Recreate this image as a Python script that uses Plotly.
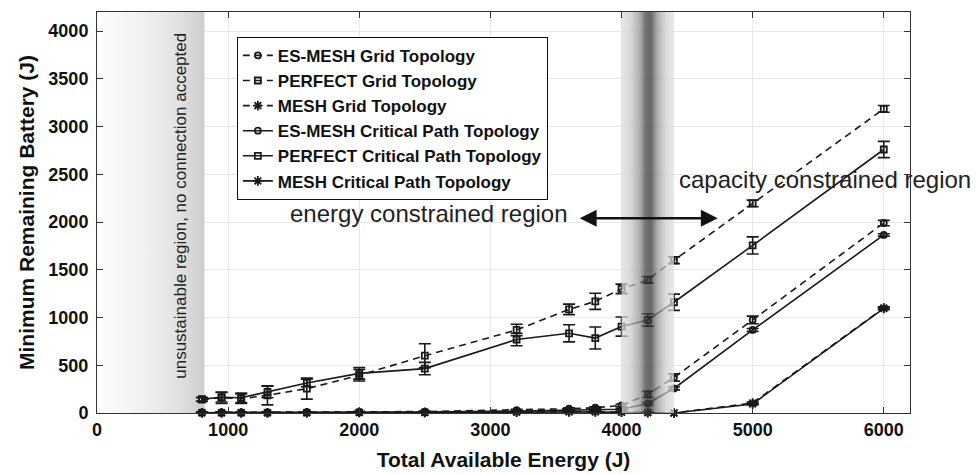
import numpy as np
import plotly.graph_objects as go

# Total available energy (J)
energy = [800, 950, 1100, 1300, 1600, 2000, 2500, 3200, 3600, 3800, 4000, 4200, 4400, 5000, 6000]

# Minimum remaining battery (J) and error bar half-heights for each protocol / topology
es_mesh_grid = [5, 5, 5, 5, 8, 12, 15, 30, 45, 55, 80, 195, 372, 975, 1990]
es_mesh_grid_err = [5, 5, 5, 5, 5, 5, 5, 8, 10, 10, 15, 32, 38, 40, 28]

perfect_grid = [140, 160, 150, 185, 255, 395, 600, 870, 1085, 1170, 1300, 1395, 1600, 2195, 3185]
perfect_grid_err = [20, 60, 50, 100, 110, 60, 125, 60, 55, 85, 50, 35, 35, 35, 35]

mesh_grid = [3, 3, 3, 3, 3, 5, 5, 10, 15, 15, 10, 5, 0, 105, 1100]
mesh_grid_err = [3, 3, 3, 3, 3, 3, 3, 5, 5, 5, 5, 5, 3, 10, 12]

es_mesh_cp = [3, 3, 3, 3, 5, 8, 10, 20, 30, 35, 40, 100, 257, 870, 1865]
es_mesh_cp_err = [3, 3, 3, 3, 3, 3, 3, 5, 5, 5, 8, 12, 15, 15, 12]

perfect_cp = [145, 165, 160, 220, 315, 415, 465, 770, 835, 785, 905, 975, 1160, 1755, 2760]
perfect_cp_err = [20, 50, 50, 60, 40, 60, 65, 65, 90, 115, 100, 65, 85, 90, 85]

mesh_cp = [3, 3, 3, 3, 3, 5, 5, 8, 12, 12, 8, 3, 0, 95, 1095]
mesh_cp_err = [3, 3, 3, 3, 3, 3, 3, 5, 5, 5, 5, 5, 3, 10, 12]

series = [
    ("ES-MESH Grid Topology", es_mesh_grid, es_mesh_grid_err, "circle-open", 6, "dash"),
    ("PERFECT Grid Topology", perfect_grid, perfect_grid_err, "square-open", 6, "dash"),
    ("MESH Grid Topology", mesh_grid, mesh_grid_err, "asterisk-open", 8, "dash"),
    ("ES-MESH Critical Path Topology", es_mesh_cp, es_mesh_cp_err, "circle-open", 6, "solid"),
    ("PERFECT Critical Path Topology", perfect_cp, perfect_cp_err, "square-open", 6, "solid"),
    ("MESH Critical Path Topology", mesh_cp, mesh_cp_err, "asterisk-open", 8, "solid"),
]

X_MAX, Y_MAX = 6200, 4200
UNSUSTAINABLE = (0, 820)
TRANSITION = (4000, 4400)

FONT = "Liberation Sans, Arial, Helvetica, sans-serif"
INK = "#1a1a1a"

fig = go.Figure()

# Unsustainable region: white-to-grey horizontal gradient, under the data
fig.add_trace(go.Scatter(
    x=[UNSUSTAINABLE[0], UNSUSTAINABLE[1], UNSUSTAINABLE[1], UNSUSTAINABLE[0], UNSUSTAINABLE[0]],
    y=[0, 0, Y_MAX, Y_MAX, 0],
    mode="none", fill="toself", showlegend=False, hoverinfo="skip",
    fillgradient=dict(
        type="horizontal",
        colorscale=[[0.0, "rgb(253,253,253)"], [0.4, "rgb(242,242,242)"],
                    [0.75, "rgb(226,226,226)"], [1.0, "rgb(205,205,205)"]],
    ),
))

for name, vals, err, sym, msize, dash in series:
    fig.add_trace(go.Scatter(
        x=energy, y=vals, name=name, mode="lines+markers",
        line=dict(color=INK, width=1.6, dash="7px,5px" if dash == "dash" else "solid"),
        marker=dict(symbol=sym, size=msize, color=INK, line=dict(color=INK, width=1.8)),
        error_y=dict(type="data", array=err, visible=True, color=INK, thickness=1.6, width=6),
        cliponaxis=False,
    ))

# Transition region: translucent grey band with a dark core, drawn over the curves
fig.add_trace(go.Scatter(
    x=[TRANSITION[0], TRANSITION[1], TRANSITION[1], TRANSITION[0], TRANSITION[0]],
    y=[0, 0, Y_MAX, Y_MAX, 0],
    mode="none", fill="toself", showlegend=False, hoverinfo="skip",
    fillgradient=dict(
        type="horizontal",
        colorscale=[[0.0, "rgba(220,220,220,0.72)"], [0.18, "rgba(200,200,200,0.72)"],
                    [0.35, "rgba(145,145,145,0.72)"], [0.46, "rgba(60,60,60,0.72)"],
                    [0.56, "rgba(45,45,45,0.72)"], [0.68, "rgba(140,140,140,0.72)"],
                    [0.84, "rgba(205,205,205,0.72)"], [1.0, "rgba(225,225,225,0.72)"]],
    ),
))

annotations = [
    dict(x=640, y=2170, xref="x", yref="y", text="unsustainable region, no connection accepted",
         textangle=-90, showarrow=False, font=dict(family=FONT, size=17, color="#222")),
    dict(x=3610, y=2085, xref="x", yref="y", text="energy constrained region",
         xanchor="right", showarrow=False, font=dict(family=FONT, size=24, color="#222")),
    dict(x=4420, y=2450, xref="x", yref="y", text="capacity constrained region",
         xanchor="left", showarrow=False, font=dict(family=FONT, size=24, color="#222")),
    dict(x=4734, y=2040, ax=3670, ay=2040, xref="x", yref="y", axref="x", ayref="y",
         text="", showarrow=True, arrowhead=2, startarrowhead=2, arrowside="end+start",
         arrowsize=1.3, arrowwidth=2.6, arrowcolor="#111"),
]

axis_common = dict(
    showline=True, linecolor="#333", linewidth=1, mirror="ticks",
    ticks="inside", ticklen=6, tickcolor="#333", tickwidth=1,
    showgrid=True, gridcolor="#e8e8e8", gridwidth=1, zeroline=False,
    automargin=False,
    tickfont=dict(family=FONT, size=18, color="#111", weight="bold"),
)

fig.update_layout(
    width=977, height=474,
    margin=dict(l=97, r=67, t=12, b=61),
    paper_bgcolor="white", plot_bgcolor="white",
    xaxis=dict(range=[0, X_MAX], tickvals=[0, 1000, 2000, 3000, 4000, 5000, 6000],
               title=dict(text="Total Available Energy (J)", standoff=13,
                          font=dict(family=FONT, size=21, color="#111", weight="bold")),
               **axis_common),
    yaxis=dict(range=[0, Y_MAX], tickvals=[0, 500, 1000, 1500, 2000, 2500, 3000, 3500, 4000],
               title=dict(text="Minimum Remaining Battery (J)", standoff=8,
                          font=dict(family=FONT, size=21, color="#111", weight="bold")),
               ticklabelstandoff=4, **axis_common),
    legend=dict(x=0.172, y=0.938, xanchor="left", yanchor="top",
                bgcolor="white", bordercolor="#111", borderwidth=1,
                font=dict(family=FONT, size=17, color="#111", weight="bold"),
                itemwidth=30, tracegroupgap=0),
    annotations=annotations,
    showlegend=True,
)

fig.write_html("out.html")
